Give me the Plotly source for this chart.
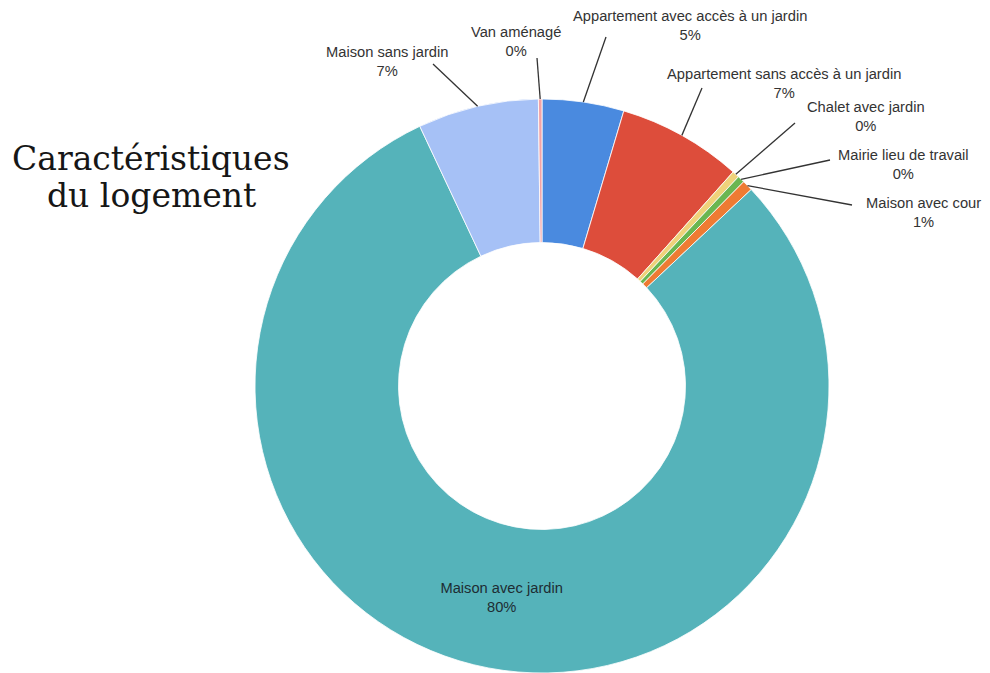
import math
import plotly.graph_objects as go

# Housing survey answers (counts), in the order drawn clockwise from 12 o'clock
labels = [
    "Appartement avec accès à un jardin",
    "Appartement sans accès à un jardin",
    "Chalet avec jardin",
    "Mairie lieu de travail",
    "Maison avec cour",
    "Maison avec jardin",
    "Maison sans jardin",
    "Van aménagé",
]
counts = [23, 35, 2, 2, 3, 400, 34, 1]
colors = ["#4A8ADF", "#DD4D3B", "#EFD27A", "#6AB651", "#EE7B33",
          "#55B3BA", "#A6C1F6", "#F2A3A6"]

W, H = 990, 673
CX, CY, R = 542, 386, 287          # donut centre / outer radius in pixels

# Outside label block centres and leader-line starts (pixels)
label_pos = {
    "Maison sans jardin": ((387, 61), (433, 64)),
    "Van aménagé": ((516, 41), (537, 58)),
    "Appartement avec accès à un jardin": ((690, 26), (606, 37)),
    "Appartement sans accès à un jardin": ((784, 83), (702, 88)),
    "Chalet avec jardin": ((866, 116), (795, 123)),
    "Mairie lieu de travail": ((903, 164), (830, 160)),
    "Maison avec cour": ((923, 212), (852, 205)),
}

LABEL_FONT = "Liberation Sans, Arial, sans-serif"


def px(x):
    return x / W


def py(y):
    return 1 - y / H


total = sum(counts)

fig = go.Figure(go.Pie(
    labels=labels,
    values=counts,
    sort=False,
    direction="clockwise",
    rotation=0,
    hole=0.5,
    marker=dict(colors=colors, line=dict(color="#FFFFFF", width=0.8)),
    texttemplate="%{label}<br>%{percent:.0%}",
    textposition=["inside" if lab == "Maison avec jardin" else "none" for lab in labels],
    insidetextorientation="horizontal",
    textfont=dict(family=LABEL_FONT, size=14.7, color="#1E2D33"),
    showlegend=False,
    hoverinfo="label+percent",
    domain=dict(x=[px(CX - R), px(CX + R)], y=[0, 2 * R / H]),
))

annotations = []
shapes = []
cum = 0
for lab, val in zip(labels, counts):
    start = cum / total * 360
    cum += val
    end = cum / total * 360
    if lab not in label_pos:
        continue
    mid = math.radians((start + end) / 2)
    tip_x = CX + R * math.sin(mid)
    tip_y = CY - R * math.cos(mid)
    (tx, ty), (lx, ly) = label_pos[lab]
    pct = round(val / total * 100)
    annotations.append(dict(
        x=px(tx), y=py(ty), xref="paper", yref="paper",
        text=f"{lab}<br>{pct}%", showarrow=False,
        xanchor="center", yanchor="middle", align="center",
        font=dict(family=LABEL_FONT, size=14.7, color="#333333"),
    ))
    shapes.append(dict(
        type="line", xref="paper", yref="paper",
        x0=px(lx), y0=py(ly), x1=px(tip_x), y1=py(tip_y),
        line=dict(color="#333333", width=1.3),
    ))

# Title, two centred lines
for text, y in (("Caractéristiques", 158), ("du logement", 195)):
    annotations.append(dict(
        x=px(151), y=py(y), xref="paper", yref="paper",
        text=text, showarrow=False, xanchor="center", yanchor="middle",
        font=dict(family="DejaVu Serif, serif", size=33, color="#161616"),
    ))

fig.update_layout(
    width=W, height=H,
    margin=dict(l=0, r=0, t=0, b=0),
    paper_bgcolor="#FFFFFF",
    plot_bgcolor="#FFFFFF",
    annotations=annotations,
    shapes=shapes,
)

fig.write_html("out.html")
